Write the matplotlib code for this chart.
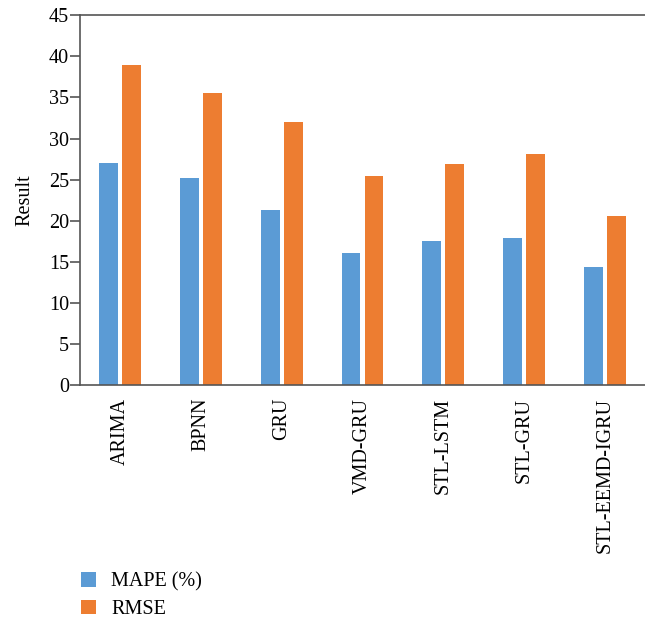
import matplotlib.pyplot as plt
import numpy as np

models = ['ARIMA', 'BPNN', 'GRU', 'VMD-GRU', 'STL-LSTM', 'STL-GRU', 'STL-EEMD-IGRU']
mape = [27.0, 25.2, 21.3, 16.1, 17.5, 17.9, 14.4]
rmse = [38.9, 35.6, 32.0, 25.4, 26.9, 28.1, 20.6]

plt.rcParams['font.family'] = ['Liberation Serif', 'DejaVu Serif']
plt.rcParams['font.size'] = 14.5

fig = plt.figure(figsize=(6.45, 6.24), dpi=100)
ax = fig.add_axes([0.124, 0.383, 0.876, 0.5925])

x = np.arange(len(models))
w = 0.235
gap = 0.05
ax.bar(x - (w + gap) / 2, mape, width=w, color='#5B9BD5', label='MAPE (%)')
ax.bar(x + (w + gap) / 2, rmse, width=w, color='#ED7D31', label='RMSE')

ax.set_xlim(-0.5, len(models) - 0.5)
ax.set_ylim(0, 45)
ax.set_yticks(range(0, 46, 5))
ax.set_xticks(x)
ax.set_xticklabels(models, rotation=90)
ax.tick_params(axis='x', length=0, pad=9)
ax.tick_params(axis='y', length=7, width=1.2, color='#555555', pad=1)
ax.set_ylabel('Result', labelpad=10)

for side in ['left', 'bottom', 'top']:
    ax.spines[side].set_color('#555555')
    ax.spines[side].set_linewidth(1.2)
ax.spines['right'].set_visible(False)

# legend sits under the rotated tick labels, bottom left
ax.legend(loc='upper left', bbox_to_anchor=(0.126, 0.083), bbox_transform=fig.transFigure,
          frameon=False, handlelength=0.75, handleheight=0.75, handletextpad=0.75,
          labelspacing=0.4, borderpad=0, borderaxespad=0)

fig.savefig('out.png', dpi=100)
